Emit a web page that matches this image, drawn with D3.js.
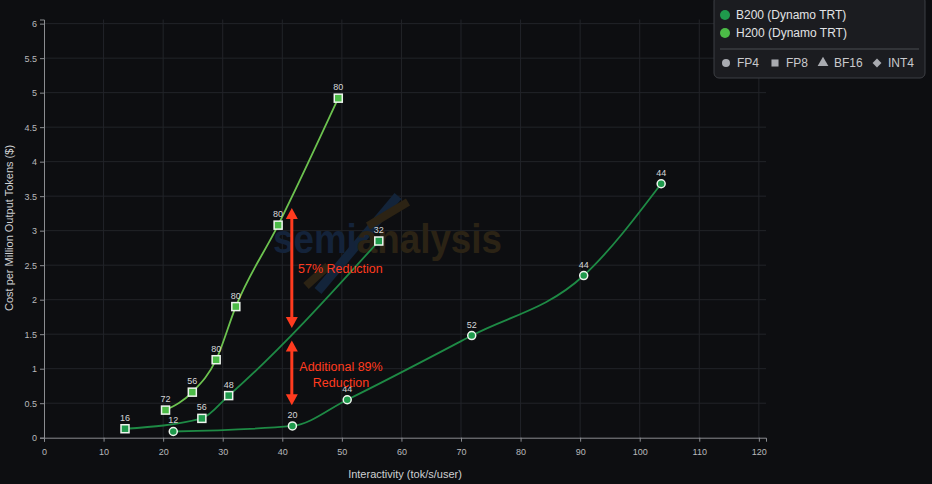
<!DOCTYPE html>
<meta charset="utf-8">
<script src="https://d3js.org/d3.v7.js"></script>
<style>
  body { margin: 0; background: #0d0e11; }
  text { font-family: "Liberation Sans", Arial, sans-serif; }
</style>
<svg id="chart" width="932" height="484"></svg>
<script>

// ---- data ----
// B200 (Dynamo TRT), FP4 (circles)
const b200Fp4X = [21.7, 41.7, 50.9, 71.8, 90.6, 103.6];
const b200Fp4Y = [0.09, 0.17, 0.55, 1.48, 2.35, 3.68];
const b200Fp4Lbl = [12, 20, 44, 52, 44, 44];

// B200 (Dynamo TRT), FP8 (squares)
const b200Fp8X = [13.6, 26.5, 31.0, 56.2];
const b200Fp8Y = [0.13, 0.28, 0.61, 2.85];
const b200Fp8Lbl = [16, 56, 48, 32];

// H200 (Dynamo TRT), FP8 (squares)
const h200Fp8X = [20.4, 24.9, 28.9, 32.2, 39.3, 49.4];
const h200Fp8Y = [0.40, 0.66, 1.13, 1.90, 3.08, 4.92];
const h200Fp8Lbl = [72, 56, 80, 80, 80, 80];

const xTicks = [0, 10, 20, 30, 40, 50, 60, 70, 80, 90, 100, 110, 120];
const yTicks = [0, 0.5, 1, 1.5, 2, 2.5, 3, 3.5, 4, 4.5, 5, 5.5, 6];

const legendSeries = ["B200 (Dynamo TRT)", "H200 (Dynamo TRT)"];
const legendShapes = ["FP4", "FP8", "BF16", "INT4"];

// annotation arrows: [x, yFrom, yTo]
const arrows = [[41.6, 1.59, 3.33], [41.6, 0.47, 1.41]];

// ---- setup ----
const svg = d3.select("#chart");
const B200 = "#1f9a4c", B200_LINE = "#1e8a45";
const H200 = "#4cbb47", H200_LINE = "#6cc24f";
const RED = "#ff3b1f";

const x = d3.scaleLinear().domain([0, 121.2]).range([44, 766]);
const y = d3.scaleLinear().domain([0, 6.06]).range([437.7, 19.5]);

svg.append("rect").attr("width", 932).attr("height", 484).attr("fill", "#0d0e11");

// grid
const grid = svg.append("g");
grid.selectAll(".gx").data(xTicks.slice(1)).join("line")
  .attr("x1", d => x(d)).attr("x2", d => x(d))
  .attr("y1", y.range()[0]).attr("y2", y.range()[1])
  .attr("stroke", "#222429").attr("stroke-width", 1);
grid.selectAll(".gy").data(yTicks.slice(1)).join("line")
  .attr("y1", d => y(d)).attr("y2", d => y(d))
  .attr("x1", x.range()[0]).attr("x2", x.range()[1])
  .attr("stroke", "#222429").attr("stroke-width", 1);

// watermark (faint logo + wordmark)
const wm = svg.append("g");
wm.append("line").attr("x1", 318).attr("y1", 291).attr("x2", 398).attr("y2", 196)
  .attr("stroke", "#13243a").attr("stroke-width", 9);
wm.append("line").attr("x1", 368).attr("y1", 226).attr("x2", 408).attr("y2", 202)
  .attr("stroke", "#2c2314").attr("stroke-width", 8);
wm.append("line").attr("x1", 306).attr("y1", 286).attr("x2", 328).attr("y2", 266)
  .attr("stroke", "#2c2314").attr("stroke-width", 8);
const wt = wm.append("text").attr("x", 273).attr("y", 253)
  .attr("font-size", 40).attr("font-weight", "bold")
  .attr("textLength", 229).attr("lengthAdjust", "spacingAndGlyphs");
wt.append("tspan").attr("fill", "#14233a").text("semi");
wt.append("tspan").attr("fill", "#2b2315").text("analysis");

// axes
const xAxis = svg.append("g").attr("transform", `translate(0,${y(0)})`)
  .call(d3.axisBottom(x).tickValues(xTicks).tickSize(4).tickSizeOuter(4));
const yAxis = svg.append("g").attr("transform", `translate(${x(0)},0)`)
  .call(d3.axisLeft(y).tickValues(yTicks).tickFormat(d3.format("~g"))
    .tickSize(4).tickSizeOuter(4));
[xAxis, yAxis].forEach(a => {
  a.selectAll("path, line").attr("stroke", "#8a8c90");
  a.selectAll("text").attr("fill", "#b8b9bc").attr("font-size", 9)
    .style("font-family", "Liberation Sans, Arial, sans-serif");
});
xAxis.selectAll("text").attr("dy", "1.1em");

svg.append("text").attr("x", 405).attr("y", 478).attr("text-anchor", "middle")
  .attr("fill", "#cfd0d2").attr("font-size", 11).text("Interactivity (tok/s/user)");
svg.append("text").attr("transform", "translate(13,228) rotate(-90)")
  .attr("text-anchor", "middle").attr("fill", "#cfd0d2").attr("font-size", 11)
  .text("Cost per Million Output Tokens ($)");

// series
const zipPts = (xs, ys, ls) => xs.map((v, i) => ({ x: v, y: ys[i], l: ls[i] }));
const series = [
  { pts: zipPts(b200Fp8X, b200Fp8Y, b200Fp8Lbl), fill: B200, line: B200_LINE, shape: "sq" },
  { pts: zipPts(b200Fp4X, b200Fp4Y, b200Fp4Lbl), fill: B200, line: B200_LINE, shape: "ci" },
  { pts: zipPts(h200Fp8X, h200Fp8Y, h200Fp8Lbl), fill: H200, line: H200_LINE, shape: "sq" }
];

const lineGen = d3.line().x(d => x(d.x)).y(d => y(d.y)).curve(d3.curveMonotoneX);

series.forEach(s => {
  svg.append("path").datum(s.pts).attr("d", lineGen)
    .attr("fill", "none").attr("stroke", s.line).attr("stroke-width", 1.8);
});

series.forEach(s => {
  const g = svg.append("g");
  if (s.shape === "sq") {
    g.selectAll("rect").data(s.pts).join("rect")
      .attr("x", d => x(d.x) - 4).attr("y", d => y(d.y) - 4)
      .attr("width", 8).attr("height", 8)
      .attr("fill", s.fill).attr("stroke", "#eef5ee").attr("stroke-width", 1.5);
  } else {
    g.selectAll("circle").data(s.pts).join("circle")
      .attr("cx", d => x(d.x)).attr("cy", d => y(d.y)).attr("r", 4)
      .attr("fill", s.fill).attr("stroke", "#eef5ee").attr("stroke-width", 1.5);
  }
  g.selectAll("text").data(s.pts).join("text")
    .attr("x", d => x(d.x)).attr("y", d => y(d.y) - 8)
    .attr("text-anchor", "middle").attr("fill", "#d6d7d9").attr("font-size", 9)
    .text(d => d.l);
});

// arrows
arrows.forEach(([ax, y0, y1]) => {
  const px = x(ax), pTop = y(y1), pBot = y(y0);
  svg.append("line").attr("x1", px).attr("x2", px)
    .attr("y1", pTop + 8).attr("y2", pBot - 8)
    .attr("stroke", RED).attr("stroke-width", 3);
  svg.append("path").attr("fill", RED)
    .attr("d", `M${px},${pTop} L${px - 6},${pTop + 11} L${px + 6},${pTop + 11} Z`);
  svg.append("path").attr("fill", RED)
    .attr("d", `M${px},${pBot} L${px - 6},${pBot - 11} L${px + 6},${pBot - 11} Z`);
});
svg.append("text").attr("x", 298).attr("y", 273).attr("fill", RED)
  .attr("font-size", 12.5).text("57% Reduction");
svg.append("text").attr("x", 341).attr("y", 371).attr("text-anchor", "middle")
  .attr("fill", RED).attr("font-size", 12.5).text("Additional 89%");
svg.append("text").attr("x", 341).attr("y", 387).attr("text-anchor", "middle")
  .attr("fill", RED).attr("font-size", 12.5).text("Reduction");

// legend
const lg = svg.append("g");
lg.append("rect").attr("x", 714).attr("y", -4).attr("width", 211).attr("height", 82)
  .attr("rx", 5).attr("fill", "#1b1c20").attr("stroke", "#3d3f44");
legendSeries.forEach((name, i) => {
  lg.append("circle").attr("cx", 725).attr("cy", 15 + i * 18).attr("r", 5)
    .attr("fill", i === 0 ? B200 : H200);
  lg.append("text").attr("x", 736).attr("y", 19 + i * 18)
    .attr("fill", "#e2e3e5").attr("font-size", 12).text(name);
});
lg.append("line").attr("x1", 720).attr("x2", 919).attr("y1", 49).attr("y2", 49)
  .attr("stroke", "#4a4c51");
const shapeX = [726, 775, 823, 877];
const sym = [d3.symbolCircle, d3.symbolSquare, d3.symbolTriangle, d3.symbolDiamond2];
legendShapes.forEach((name, i) => {
  lg.append("path").attr("d", d3.symbol(sym[i], 50)())
    .attr("transform", `translate(${shapeX[i]},63)`).attr("fill", "#a9abb0");
  lg.append("text").attr("x", shapeX[i] + 11).attr("y", 67)
    .attr("fill", "#c9cacd").attr("font-size", 12).text(name);
});

</script>
